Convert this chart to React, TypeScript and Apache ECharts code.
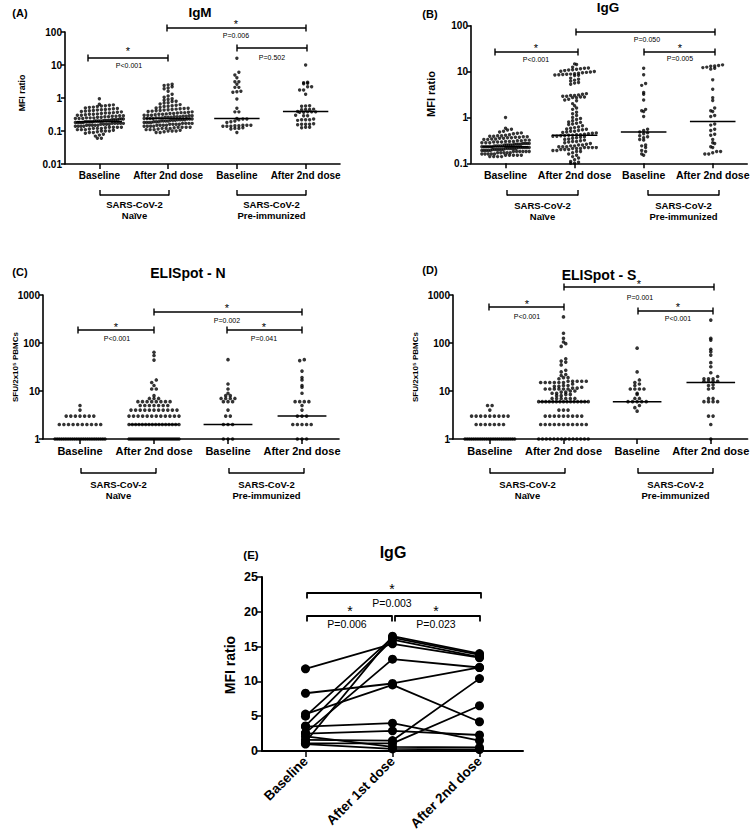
import React, { useEffect, useRef } from 'react';
import * as echarts from 'echarts';

// ---------------- DATA ----------------
const categories = ['Baseline', 'After 2nd dose', 'Baseline', 'After 2nd dose'];
const groupTop = 'SARS-CoV-2';
const groupBottom = ['Naïve', 'Pre-immunized'];

// (A) IgM MFI ratio
const igmNaiveBaseline = [0.95, 0.65, 0.62, 0.6, 0.58, 0.57, 0.55, 0.53, 0.52, 0.5, 0.48, 0.47, 0.46, 0.45, 0.44, 0.43, 0.42, 0.41, 0.4, 0.39, 0.38, 0.37, 0.36, 0.35, 0.35, 0.34, 0.33, 0.32, 0.32, 0.31, 0.3, 0.3, 0.29, 0.29, 0.28, 0.28, 0.27, 0.27, 0.26, 0.26, 0.25, 0.25, 0.25, 0.24, 0.24, 0.24, 0.23, 0.23, 0.23, 0.22, 0.22, 0.22, 0.22, 0.21, 0.21, 0.21, 0.21, 0.2, 0.2, 0.2, 0.2, 0.2, 0.19, 0.19, 0.19, 0.19, 0.19, 0.18, 0.18, 0.18, 0.18, 0.18, 0.17, 0.17, 0.17, 0.17, 0.17, 0.16, 0.16, 0.16, 0.16, 0.15, 0.15, 0.15, 0.15, 0.15, 0.14, 0.14, 0.14, 0.14, 0.13, 0.13, 0.13, 0.13, 0.125, 0.12, 0.12, 0.12, 0.115, 0.11, 0.11, 0.11, 0.105, 0.1, 0.1, 0.1, 0.095, 0.09, 0.09, 0.085, 0.08, 0.075, 0.07, 0.06, 0.06];
const igmNaiveAfter2nd = [2.6, 2.5, 2.4, 2.2, 2.0, 1.9, 1.6, 1.3, 1.15, 1.05, 0.95, 0.9, 0.85, 0.8, 0.78, 0.72, 0.7, 0.66, 0.63, 0.6, 0.58, 0.56, 0.55, 0.52, 0.5, 0.49, 0.48, 0.47, 0.46, 0.45, 0.44, 0.43, 0.42, 0.41, 0.4, 0.39, 0.38, 0.37, 0.36, 0.36, 0.35, 0.34, 0.34, 0.33, 0.32, 0.32, 0.31, 0.3, 0.3, 0.3, 0.29, 0.29, 0.28, 0.28, 0.27, 0.27, 0.27, 0.26, 0.26, 0.26, 0.25, 0.25, 0.25, 0.24, 0.24, 0.24, 0.24, 0.23, 0.23, 0.23, 0.22, 0.22, 0.22, 0.22, 0.21, 0.21, 0.21, 0.2, 0.2, 0.2, 0.2, 0.19, 0.19, 0.19, 0.18, 0.18, 0.18, 0.18, 0.17, 0.17, 0.17, 0.17, 0.16, 0.16, 0.16, 0.16, 0.15, 0.15, 0.15, 0.15, 0.14, 0.14, 0.14, 0.14, 0.13, 0.13, 0.13, 0.13, 0.125, 0.12, 0.12, 0.12, 0.115, 0.11, 0.11, 0.11, 0.105, 0.1, 0.1, 0.1, 0.095, 0.09, 0.09];
const igmPreBaseline = [16, 6, 5, 4.1, 3.1, 3.1, 2.6, 2.1, 2.1, 1.55, 1.5, 1.6, 0.93, 0.49, 0.38, 0.38, 0.24, 0.23, 0.22, 0.23, 0.19, 0.2, 0.18, 0.15, 0.145, 0.14, 0.15, 0.145, 0.14, 0.15, 0.14, 0.12, 0.125, 0.12, 0.115, 0.09];
const igmPreAfter2nd = [10, 2.9, 3.0, 2.8, 2.7, 2.2, 2.2, 1.75, 1.75, 1.3, 0.57, 0.56, 0.58, 0.45, 0.46, 0.44, 0.45, 0.38, 0.37, 0.38, 0.39, 0.38, 0.37, 0.29, 0.3, 0.29, 0.22, 0.22, 0.23, 0.22, 0.21, 0.16, 0.16, 0.165, 0.16, 0.155, 0.13, 0.13, 0.125];
const igmMedians = [0.19, 0.24, 0.24, 0.39];

// (B) IgG MFI ratio
const iggNaiveBaseline = [1.0, 0.58, 0.55, 0.53, 0.5, 0.48, 0.46, 0.45, 0.44, 0.42, 0.41, 0.4, 0.4, 0.39, 0.39, 0.38, 0.38, 0.37, 0.37, 0.36, 0.36, 0.35, 0.35, 0.34, 0.34, 0.33, 0.33, 0.32, 0.32, 0.31, 0.31, 0.3, 0.3, 0.3, 0.29, 0.29, 0.29, 0.28, 0.28, 0.28, 0.27, 0.27, 0.27, 0.27, 0.26, 0.26, 0.26, 0.26, 0.25, 0.25, 0.25, 0.25, 0.25, 0.24, 0.24, 0.24, 0.24, 0.24, 0.23, 0.23, 0.23, 0.23, 0.23, 0.23, 0.22, 0.22, 0.22, 0.22, 0.22, 0.22, 0.21, 0.21, 0.21, 0.21, 0.21, 0.21, 0.2, 0.2, 0.2, 0.2, 0.2, 0.2, 0.19, 0.19, 0.19, 0.19, 0.19, 0.18, 0.18, 0.18, 0.18, 0.18, 0.18, 0.17, 0.17, 0.17, 0.17, 0.17, 0.16, 0.16, 0.16, 0.16, 0.16, 0.15, 0.15, 0.15, 0.15, 0.15, 0.14, 0.14, 0.14, 0.14];
const iggNaiveAfter2nd = [14.7, 14.2, 12.5, 12, 11.8, 11.5, 11.2, 11, 10.8, 10.5, 10.2, 10, 9.8, 9.6, 9.4, 9.2, 9, 8.8, 8.7, 8.6, 8.5, 8.4, 8.3, 8.2, 7.2, 6.8, 6.5, 6.2, 5.8, 5.6, 5.3, 3.3, 3.2, 3.1, 3.0, 3.0, 2.9, 2.9, 2.8, 2.8, 2.7, 2.7, 2.5, 2.4, 2.3, 2.0, 1.8, 1.6, 1.5, 1.3, 1.2, 1.1, 1.0, 0.95, 0.9, 0.85, 0.8, 0.78, 0.75, 0.72, 0.7, 0.66, 0.62, 0.6, 0.58, 0.56, 0.55, 0.54, 0.52, 0.5, 0.5, 0.48, 0.47, 0.46, 0.45, 0.44, 0.43, 0.42, 0.42, 0.41, 0.41, 0.4, 0.4, 0.39, 0.39, 0.38, 0.37, 0.36, 0.35, 0.34, 0.33, 0.32, 0.31, 0.3, 0.3, 0.29, 0.28, 0.27, 0.26, 0.25, 0.25, 0.24, 0.24, 0.23, 0.23, 0.23, 0.22, 0.22, 0.22, 0.22, 0.21, 0.21, 0.21, 0.2, 0.2, 0.2, 0.19, 0.19, 0.18, 0.18, 0.17, 0.16, 0.15, 0.14, 0.13, 0.12, 0.11, 0.105, 0.1, 0.1];
const iggPreBaseline = [11.8, 8.5, 5.5, 5.0, 3.5, 3.2, 2.4, 1.5, 1.4, 1.35, 1.05, 0.55, 0.52, 0.48, 0.46, 0.44, 0.4, 0.38, 0.36, 0.33, 0.32, 0.25, 0.24, 0.22, 0.19, 0.18, 0.16, 0.15];
const iggPreAfter2nd = [14, 13.5, 13.2, 13, 12.5, 12.2, 11.8, 11.3, 6.6, 4.1, 2.7, 2.35, 1.6, 1.4, 1.35, 1.1, 1.05, 0.72, 0.68, 0.55, 0.52, 0.43, 0.41, 0.33, 0.28, 0.27, 0.23, 0.22, 0.18, 0.17, 0.18, 0.16, 0.16];
const iggMedians = [0.23, 0.41, 0.48, 0.82];

// (C) ELISpot - N, SFU/2x10^5 PBMCs
const elisNNaiveBaseline = [5, 4, 3, 3, 3, 3, 3, 3, 3, 2, 2, 2, 2, 2, 2, 2, 2, 2, 2, 1, 1, 1, 1, 1, 1, 1, 1, 1, 1, 1, 1, 1, 1, 1, 1, 1, 1, 1, 1, 1, 1, 1, 1];
const elisNNaiveAfter2nd = [64, 55, 44, 17, 15, 13, 11, 11, 8, 7, 7, 7, 6, 6, 6, 6, 6, 6, 6, 6, 5, 5, 5, 5, 5, 5, 5, 4, 4, 4, 4, 4, 4, 4, 4, 4, 4, 4, 3, 3, 3, 3, 3, 3, 3, 3, 3, 3, 3, 3, 2, 2, 2, 2, 2, 2, 2, 2, 2, 2, 2, 2, 2, 2, 2, 2, 1, 1, 1, 1, 1, 1, 1, 1, 1, 1, 1, 1, 1, 1, 1, 1, 1, 1, 1, 1, 1, 1, 1, 1, 1, 1];
const elisNPreBaseline = [45, 14, 11, 9, 8, 8, 7, 7, 7, 7, 6, 6, 6, 4, 3, 3, 2, 2, 2, 1, 1, 1];
const elisNPreAfter2nd = [45, 43, 26, 19, 17, 13, 12, 9, 6, 6, 6, 6, 5, 4, 3, 3, 3, 2, 2, 2, 2, 2, 1, 1, 1];
const elisNMedians = [1, 2, 2, 3];

// (D) ELISpot - S, SFU/2x10^5 PBMCs
const elisSNaiveBaseline = [5, 5, 4, 3, 3, 3, 3, 3, 3, 3, 3, 3, 2, 2, 2, 2, 2, 2, 2, 1, 1, 1, 1, 1, 1, 1, 1, 1, 1, 1, 1, 1, 1, 1, 1, 1, 1, 1, 1, 1, 1, 1, 1];
const elisSNaiveAfter2nd = [350, 160, 125, 105, 97, 85, 47, 42, 40, 35, 27, 25, 22, 21, 19, 19, 18, 16, 16, 16, 16, 16, 15, 15, 15, 15, 15, 15, 14, 13, 13, 12.5, 12.5, 12, 11.5, 11.5, 11, 11, 11, 11, 11, 11, 10, 10, 9.5, 9.5, 9, 9, 8.5, 8.5, 8, 8, 7, 7, 7, 7, 7, 7, 6, 6, 6, 6, 6, 6, 6, 6, 6, 6, 6, 6, 6, 6, 6, 4, 4, 4, 3, 3, 3, 3, 3, 3, 3, 3, 3, 2, 2, 2, 2, 2, 2, 2, 2, 2, 2, 2, 1, 1, 1, 1, 1, 1, 1, 1, 1, 1, 1, 1, 1, 1];
const elisSPreBaseline = [78, 25, 17, 15, 14, 13, 11, 11, 11, 11, 9, 8.5, 7, 7, 6, 6, 6, 6, 6, 5, 4.5, 3.8];
const elisSPreAfter2nd = [300, 125, 115, 74, 66, 56, 39, 32, 24, 20, 18, 18, 18, 16, 16, 16, 16, 13.5, 13, 11.5, 11, 7, 7, 6, 6, 6, 6, 3, 3, 2, 1];
const elisSMedians = [1, 6, 6, 15];

// (E) paired IgG MFI ratio (one entry per subject)
const timepoints = ['Baseline', 'After 1st dose', 'After 2nd dose'];
const pairedBaseline = [11.8, 8.3, 5.3, 5.0, 3.6, 3.5, 2.6, 2.5, 2.1, 1.6, 1.3, 1.1, 1.0];
const pairedAfter1st = [15.4, 9.7, 9.5, 16.3, 16.0, 4.0, 13.2, 2.9, 0.6, 1.5, 16.5, 1.1, 0.3];
const pairedAfter2nd = [13.4, 12.0, 4.2, 13.8, 13.5, 1.5, 12.0, 2.3, 0.5, 10.4, 14.0, 6.5, 0.2];

// ---------------- LAYOUT ----------------
const FONT = '"Liberation Sans", Arial, Helvetica, sans-serif';

const PANELS = [
  { grid: { left: 65, top: 32, width: 275, height: 132 }, yMin: 0.01, yMax: 100, cols: [igmNaiveBaseline, igmNaiveAfter2nd, igmPreBaseline, igmPreAfter2nd], med: igmMedians, lab: 10, gap: 4, dot: 3.4, maxW: 48 },
  { grid: { left: 471, top: 25.7, width: 280, height: 137.6 }, yMin: 0.1, yMax: 100, cols: [iggNaiveBaseline, iggNaiveAfter2nd, iggPreBaseline, iggPreAfter2nd], med: iggMedians, lab: 10.5, gap: 4, dot: 3.4, maxW: 48 },
  { grid: { left: 43, top: 295, width: 296, height: 144 }, yMin: 1, yMax: 1000, cols: [elisNNaiveBaseline, elisNNaiveAfter2nd, elisNPreBaseline, elisNPreAfter2nd], med: elisNMedians, lab: 11, gap: 4.6, dot: 3.6, maxW: 50 },
  { grid: { left: 453, top: 295, width: 297, height: 144 }, yMin: 1, yMax: 1000, cols: [elisSNaiveBaseline, elisSNaiveAfter2nd, elisSPreBaseline, elisSPreAfter2nd], med: elisSMedians, lab: 11, gap: 4.6, dot: 3.6, maxW: 50 },
];

function swarm(values: number[], idx: number, p: any): number[][] {
  const lo = Math.log10(p.yMin);
  const hi = Math.log10(p.yMax);
  const unit = p.grid.width / 4;
  const rowH = 3.6;
  const rows: Record<string, number[]> = {};
  values.forEach((v) => {
    const py = ((Math.log10(v) - lo) / (hi - lo)) * p.grid.height;
    const r = String(Math.round(py / rowH));
    (rows[r] = rows[r] || []).push(v);
  });
  const out: number[][] = [];
  Object.keys(rows).forEach((k) => {
    const vals = rows[k].slice().sort((a, b) => a - b);
    const n = vals.length;
    let g = p.gap;
    if (n > 1 && (n - 1) * g > p.maxW) g = p.maxW / (n - 1);
    vals.forEach((v, j) => out.push([idx + ((j - (n - 1) / 2) * g) / unit, v]));
  });
  return out;
}

const fmtLog = (v: number) => String(Number(v.toPrecision(3)));

function buildOption() {
  const grid: any[] = [];
  const xAxis: any[] = [];
  const yAxis: any[] = [];
  const series: any[] = [];
  const axisLine = { show: true, onZero: false, lineStyle: { color: '#000', width: 1.6 } };

  PANELS.forEach((p, pi) => {
    grid.push({ ...p.grid, containLabel: false });
    xAxis.push({
      type: 'category', gridIndex: pi, data: categories, boundaryGap: true, position: 'bottom',
      axisLine, axisTick: { show: true, alignWithLabel: true, length: 5, lineStyle: { color: '#000', width: 1.5 } },
      axisLabel: { color: '#000', fontWeight: 'bold', fontSize: p.lab, fontFamily: FONT, margin: 6, interval: 0 },
    });
    xAxis.push({ type: 'value', gridIndex: pi, min: -0.5, max: 3.5, show: false, position: 'bottom', axisLine: { show: false, onZero: false } });
    yAxis.push({
      type: 'log', logBase: 10, gridIndex: pi, min: p.yMin, max: p.yMax, position: 'left',
      axisLine, axisTick: { show: true, length: 4, lineStyle: { color: '#000', width: 1.5 } },
      axisLabel: { color: '#000', fontWeight: 'bold', fontSize: 10, fontFamily: FONT, margin: 3, formatter: fmtLog },
      splitLine: { show: false }, minorTick: { show: false },
    });
    p.cols.forEach((vals, ci) => {
      series.push({
        type: 'scatter', xAxisIndex: pi * 2 + 1, yAxisIndex: pi, data: swarm(vals, ci, p),
        symbol: 'circle', symbolSize: p.dot, itemStyle: { color: '#000' }, clip: false, silent: true,
      });
      series.push({
        type: 'line', xAxisIndex: pi * 2 + 1, yAxisIndex: pi,
        data: [[ci - 0.33, p.med[ci]], [ci + 0.33, p.med[ci]]],
        symbol: 'none', lineStyle: { color: '#000', width: 1.5 }, clip: false, silent: true,
      });
    });
  });

  // Panel E
  grid.push({ left: 262, top: 577, width: 261, height: 174 });
  xAxis.push({
    type: 'category', gridIndex: 4, data: timepoints, boundaryGap: true,
    axisLine: { show: true, onZero: false, lineStyle: { color: '#000', width: 2 } },
    axisTick: { show: true, alignWithLabel: true, length: 6, lineStyle: { color: '#000', width: 1.5 } },
    axisLabel: { color: '#000', fontWeight: 'bold', fontSize: 13.5, fontFamily: FONT, rotate: 45, margin: 8, interval: 0 },
  });
  yAxis.push({
    type: 'value', gridIndex: 4, min: 0, max: 25, interval: 5,
    axisLine: { show: true, onZero: false, lineStyle: { color: '#000', width: 2 } },
    axisTick: { show: true, length: 5, lineStyle: { color: '#000', width: 1.5 } },
    axisLabel: { color: '#000', fontWeight: 'bold', fontSize: 12.5, fontFamily: FONT, margin: 4 },
    splitLine: { show: false },
  });
  pairedBaseline.forEach((b, i) => {
    series.push({
      type: 'line', xAxisIndex: 8, yAxisIndex: 4,
      data: [b, pairedAfter1st[i], pairedAfter2nd[i]],
      symbol: 'circle', symbolSize: 9, itemStyle: { color: '#000' },
      lineStyle: { color: '#000', width: 1.8 }, clip: false, silent: true,
    });
  });

  // ---------- graphic annotations ----------
  const G: any[] = [];
  const text = (x: number, y: number, s: string, size: number, bold = true, rot = 0) =>
    G.push({
      type: 'text', x, y, rotation: rot, silent: true,
      style: { text: s, font: `${bold ? 'bold ' : ''}${size}px ${FONT}`, fill: '#000', align: 'center', verticalAlign: 'middle' },
    });
  const line = (x1: number, y1: number, x2: number, y2: number, w = 1.4) =>
    G.push({ type: 'line', silent: true, shape: { x1, y1, x2, y2 }, style: { stroke: '#000', lineWidth: w } });
  const capBracket = (x1: number, x2: number, y: number) => {
    line(x1, y, x2, y); line(x1, y - 3.5, x1, y + 3.5); line(x2, y - 3.5, x2, y + 3.5);
  };
  const groupBracket = (x1: number, x2: number, y: number) => {
    line(x1, y, x2, y); line(x1, y - 5, x1, y + 0.6); line(x2, y - 5, x2, y + 0.6);
  };
  const downBracket = (x1: number, x2: number, y: number) => {
    line(x1, y, x2, y, 1.8); line(x1, y - 0.8, x1, y + 5.5, 1.8); line(x2, y - 0.8, x2, y + 5.5, 1.8);
  };
  const star = (x: number, y: number, size = 11) => text(x, y + size * 0.22, '*', size, false);
  const pval = (x: number, y: number, s: string) => text(x, y, s, 7, false);

  // Panel letters & titles
  text(20, 13, '(A)', 11); text(200, 12, 'IgM', 13.5);
  text(430, 14, '(B)', 11); text(608, 7, 'IgG', 13.5);
  text(20, 272, '(C)', 11); text(188, 273, 'ELISpot - N', 14);
  text(430, 270, '(D)', 11); text(599, 275, 'ELISpot - S', 14);
  text(251, 555, '(E)', 11.5); text(393, 552, 'IgG', 16);

  // Y axis names
  text(22, 93, 'MFI ratio', 8.8, true, Math.PI / 2);
  text(431, 94, 'MFI ratio', 11, true, Math.PI / 2);
  text(15, 367, 'SFU/2x10\u2075 PBMCs', 8, true, Math.PI / 2);
  text(415, 367, 'SFU/2x10\u2075 PBMCs', 8, true, Math.PI / 2);
  text(230, 665, 'MFI ratio', 14, true, Math.PI / 2);

  // Group brackets and labels
  const groups = [
    { y: 195, ty: 204, spans: [[100, 169], [237, 306]] },
    { y: 195, ty: 205, spans: [[507, 578], [648, 719]] },
    { y: 473, ty: 484, spans: [[81, 156], [229, 304]] },
    { y: 473, ty: 484, spans: [[490, 565], [638, 713]] },
  ];
  groups.forEach((g) => {
    g.spans.forEach((s, k) => {
      groupBracket(s[0], s[1], g.y);
      const cx = (s[0] + s[1]) / 2;
      text(cx, g.ty, groupTop, 9.5);
      text(cx, g.ty + 11, groupBottom[k], 9.5);
    });
  });

  // (A) significance
  capBracket(88, 168, 58); star(128, 49); pval(129, 65, 'P<0.001');
  capBracket(167, 306, 28); star(236, 22); pval(236, 35, 'P=0.006');
  capBracket(237, 307, 48); pval(272, 57, 'P=0.502');
  // (B)
  capBracket(495, 578, 52); star(536, 46); pval(536, 59, 'P<0.001');
  capBracket(576, 715, 32); pval(647, 39, 'P=0.050');
  capBracket(644, 715, 52); star(680, 46); pval(680, 58, 'P=0.005');
  // (C)
  capBracket(78, 154, 330); star(116, 325); pval(117, 338, 'P<0.001');
  capBracket(154, 302, 312); star(227, 306); pval(227, 320, 'P=0.002');
  capBracket(227, 302, 330); star(264, 325); pval(264, 338, 'P=0.041');
  // (D)
  capBracket(489, 564, 307); star(527, 302); pval(527, 316, 'P<0.001');
  capBracket(564, 714, 287); star(639, 282); pval(640, 297, 'P=0.001');
  capBracket(638, 713, 311); star(678, 305); pval(678, 318, 'P<0.001');
  // (E)
  downBracket(307, 481, 593); star(392, 586, 14); text(392, 603, 'P=0.003', 10.5, false);
  downBracket(307, 392, 616); star(350, 608, 14); text(347, 624, 'P=0.006', 10.5, false);
  downBracket(395, 480, 616); star(436, 608, 14); text(436, 624, 'P=0.023', 10.5, false);

  return {
    animation: false,
    backgroundColor: '#fff',
    grid, xAxis, yAxis, series,
    graphic: { elements: G },
  };
}

export default function App() {
  const ref = useRef<HTMLDivElement>(null);
  useEffect(() => {
    document.body.style.margin = '0';
    if (!ref.current) return;
    const chart = echarts.init(ref.current, undefined, { renderer: 'svg' });
    chart.setOption(buildOption() as any);
    return () => chart.dispose();
  }, []);
  return <div ref={ref} style={{ width: 752, height: 833 }} />;
}
